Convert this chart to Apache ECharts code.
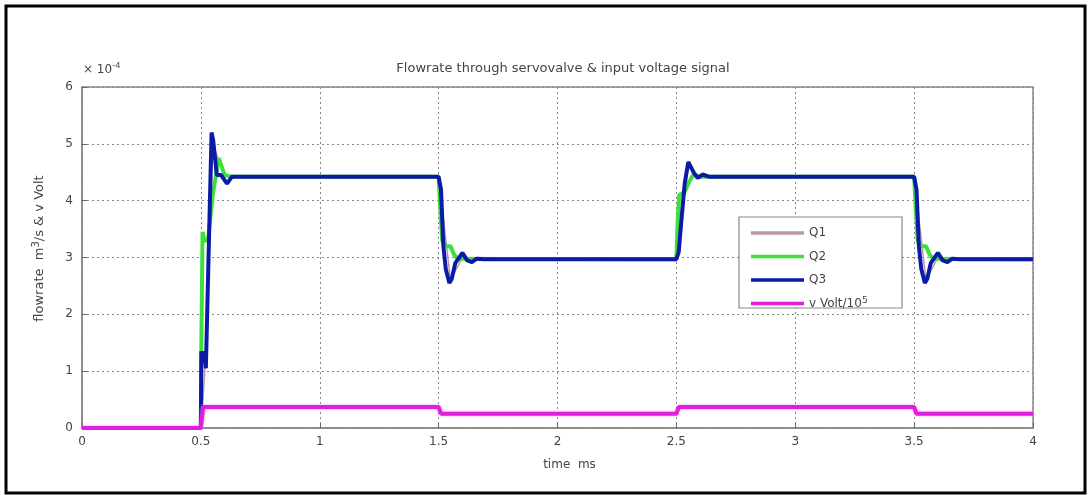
<!DOCTYPE html>
<html>
<head>
<meta charset="utf-8">
<script src="https://cdn.jsdelivr.net/npm/echarts@6/dist/echarts.min.js"></script>
<style>html,body{margin:0;padding:0;background:#fff;}#c{width:1091px;height:495px;}</style>
</head>
<body>
<div id="c"></div>
<script>
// values in units of 1e-4 (axis shows x 10^-4)
const xTicks = [0, 0.5, 1, 1.5, 2, 2.5, 3, 3.5, 4];
const yTicks = [0, 1, 2, 3, 4, 5, 6];
const seriesNames = ['Q1', 'Q2', 'Q3', 'v Volt/10^5'];

const q1 = [[0,0],[0.5,0],[0.52,1.2],[0.55,5.0],[0.6,4.42],[1.5,4.42],[1.55,2.6],[1.6,3.0],[2.5,2.98],[2.55,4.6],[2.6,4.42],[3.5,4.42],[3.55,2.6],[3.6,3.0],[4,2.98]];

const q2 = [[0,0],[0.5,0],[0.502,1.5],[0.507,3.45],[0.515,3.3],[0.53,3.3],[0.55,4.1],[0.575,4.75],[0.6,4.45],[0.63,4.42],
  [1.5,4.42],[1.505,4.0],[1.515,3.3],[1.53,3.2],[1.55,3.2],[1.565,3.05],[1.58,2.98],
  [2.5,2.97],[2.505,3.6],[2.512,4.1],[2.535,4.15],[2.55,4.3],[2.57,4.45],[2.6,4.42],
  [3.5,4.42],[3.505,4.0],[3.515,3.3],[3.53,3.2],[3.55,3.2],[3.565,3.05],[3.58,2.98],[4,2.97]];

const q3 = [[0,0],[0.5,0],[0.502,1.35],[0.508,1.15],[0.516,1.35],[0.521,1.05],[0.545,5.2],[0.552,5.05],[0.567,4.45],[0.585,4.45],[0.61,4.3],[0.63,4.42],[0.66,4.42],
  [1.5,4.42],[1.51,4.2],[1.52,3.2],[1.53,2.8],[1.545,2.55],[1.555,2.62],[1.57,2.9],[1.6,3.08],[1.62,2.95],[1.64,2.92],[1.66,2.98],[1.69,2.97],
  [2.5,2.97],[2.51,3.1],[2.52,3.6],[2.535,4.3],[2.55,4.68],[2.56,4.6],[2.575,4.48],[2.59,4.4],[2.61,4.46],[2.64,4.42],
  [3.5,4.42],[3.51,4.2],[3.52,3.2],[3.53,2.8],[3.545,2.55],[3.555,2.62],[3.57,2.9],[3.6,3.08],[3.62,2.95],[3.64,2.92],[3.66,2.98],[3.69,2.97],[4,2.97]];

const vVolt = [[0,0],[0.5,0],[0.51,0.37],[1.5,0.37],[1.51,0.25],[2.5,0.25],[2.51,0.37],[3.5,0.37],[3.51,0.25],[4,0.25]];

const FONT = 'DejaVu Sans, Verdana, sans-serif';
const TXT = '#444';
const LINE_ICON = 'path://M0,0 L60,0 L60,4 L0,4 Z';
const chart = echarts.init(document.getElementById('c'));
chart.setOption({
  animation: false,
  backgroundColor: '#fff',
  title: {
    text: 'Flowrate through servovalve & input voltage signal',
    left: 558, top: 57, textAlign: 'center',
    textStyle: {fontFamily: FONT, fontSize: 13, fontWeight: 'normal', color: TXT}
  },
  grid: {left: 82, right: 58, top: 87, bottom: 67, show: true, borderColor: '#888', borderWidth: 1.5},
  xAxis: {
    type: 'value', min: 0, max: 4, interval: 0.5,
    name: 'time  ms', nameLocation: 'middle', nameGap: 31,
    nameTextStyle: {fontFamily: FONT, fontSize: 12, color: TXT, padding: [0, 0, 0, 24]},
    axisLine: {show: true, lineStyle: {color: '#888', width: 1.5}},
    axisTick: {show: true, inside: true, length: 5, lineStyle: {color: '#666'}},
    axisLabel: {fontFamily: FONT, fontSize: 12, color: TXT, margin: 8,
      formatter: v => xTicks.includes(v) ? String(v) : ''},
    splitLine: {show: true, lineStyle: {color: '#888', type: [2, 3], width: 1}}
  },
  yAxis: {
    type: 'value', min: 0, max: 6, interval: 1,
    name: 'flowrate  m{sup|3}/s & v Volt', nameLocation: 'middle', nameGap: 33, nameRotate: 90,
    nameTextStyle: {fontFamily: FONT, fontSize: 13, color: TXT, padding: [0, 0, 0, 18],
      rich: {sup: {fontFamily: FONT, fontSize: 10, color: TXT, verticalAlign: 'top', padding: [0,0,8,0]}}},
    axisLine: {show: true, lineStyle: {color: '#888', width: 1.5}},
    axisTick: {show: true, inside: true, length: 5, lineStyle: {color: '#666'}},
    axisLabel: {fontFamily: FONT, fontSize: 12, color: TXT, margin: 9,
      formatter: v => yTicks.includes(v) ? String(v) : ''},
    splitLine: {show: true, lineStyle: {color: '#888', type: [2, 3], width: 1}}
  },
  legend: {
    orient: 'vertical', left: 751, top: 226, itemWidth: 53, itemHeight: 4, itemGap: 9.5,
    padding: 0, z: 60, icon: LINE_ICON,
    data: seriesNames,
    formatter: n => n === 'v Volt/10^5' ? 'v Volt/10{sup|5}' : n,
    textStyle: {fontFamily: FONT, fontSize: 12, color: TXT, lineHeight: 14,
      rich: {sup: {fontFamily: FONT, fontSize: 9, color: TXT, verticalAlign: 'top', padding: [0,0,8,0]}}}
  },
  graphic: [
    {type: 'rect', shape: {x: 6, y: 6, width: 1079, height: 487}, style: {fill: 'none', stroke: '#000', lineWidth: 3}, silent: true},
    {type: 'rect', shape: {x: 739, y: 217, width: 163, height: 91}, style: {fill: '#fff', stroke: '#888', lineWidth: 1.2}, z: 10, silent: true},
    {type: 'text', left: 83, top: 61, style: {text: '× 10{s|-4}', font: '12px DejaVu Sans', fill: TXT,
      rich: {s: {fontSize: 9, fill: TXT, verticalAlign: 'top', padding: [0,0,8,0]}}}}
  ],
  series: [
    {name: 'Q1', type: 'line', data: q1, showSymbol: false, symbol: 'none', z: 2,
      lineStyle: {color: '#b898a8', width: 1.5}, itemStyle: {color: '#b898a8'}},
    {name: 'Q2', type: 'line', data: q2, showSymbol: false, symbol: 'none', z: 3,
      lineStyle: {color: '#3ee03e', width: 4}, itemStyle: {color: '#3ee03e'}},
    {name: 'Q3', type: 'line', data: q3, showSymbol: false, symbol: 'none', z: 4,
      lineStyle: {color: '#0c1aa8', width: 4}, itemStyle: {color: '#0c1aa8'}},
    {name: 'v Volt/10^5', type: 'line', data: vVolt, showSymbol: false, symbol: 'none', z: 5,
      lineStyle: {color: '#e01ee0', width: 4, shadowColor: 'rgba(240,140,240,0.8)', shadowBlur: 3}, itemStyle: {color: '#e01ee0'}}
  ]
});
</script>
</body>
</html>
